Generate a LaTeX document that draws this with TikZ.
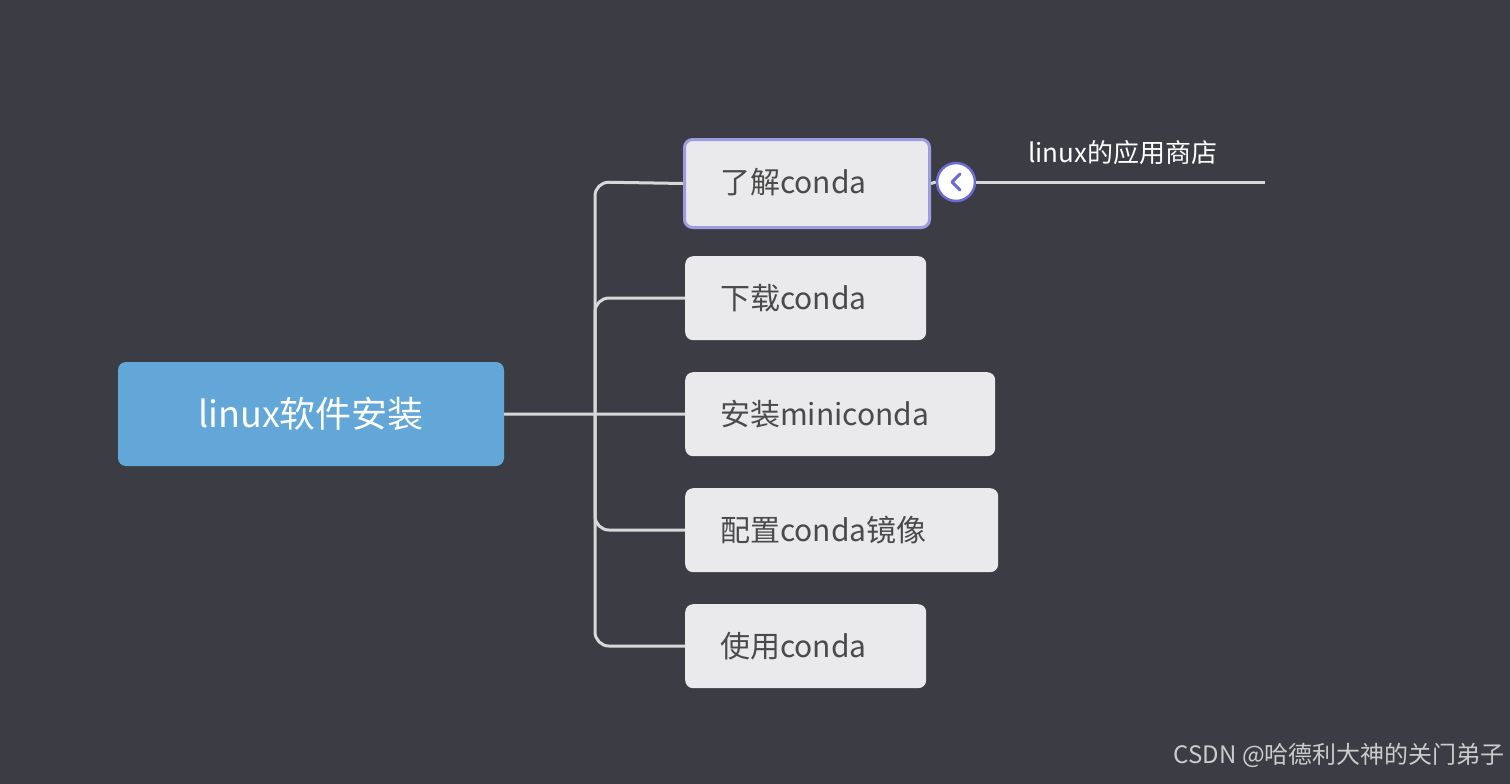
\documentclass[tikz,border=0pt]{standalone}
\usepackage{fontspec}
\setmainfont{Noto Sans CJK SC}
\definecolor{bg}{HTML}{3C3D44}
\definecolor{rootc}{HTML}{62A7D8}
\definecolor{boxc}{HTML}{EAEAEC}
\definecolor{txt}{HTML}{4A4A4A}
\definecolor{linec}{HTML}{D8D8D8}
\definecolor{sel}{HTML}{9A9EE0}
\definecolor{icon}{HTML}{6B6BD6}
\tikzset{
  child/.style={fill=boxc,rounded corners=8pt,text=txt,anchor=north west,inner sep=0pt,align=left,font=\fontsize{30}{34}\selectfont},
  conn/.style={draw=linec,line width=3pt,rounded corners=14pt},
}
\begin{document}
\begin{tikzpicture}[x=1pt,y=-1pt]
\fill[bg] (0,0) rectangle (1510,784);
\useasboundingbox (0,0) rectangle (1510,784);
\node[fill=rootc,rounded corners=8pt,minimum width=386pt,minimum height=104pt,inner sep=0pt,text=white,font=\fontsize{36}{40}\selectfont] (root) at (311,414) {linux软件安装};
\node[child,minimum width=245pt,minimum height=88pt,draw=sel,line width=3pt] (c1) at (683,138) {};
\node[anchor=west,text=txt,font=\fontsize{30}{34}\selectfont,inner sep=0pt] at (720,182) {了解conda};
\node[child,minimum width=241pt,minimum height=84pt] (c2) at (685,256) {};
\node[anchor=west,text=txt,font=\fontsize{30}{34}\selectfont,inner sep=0pt] at (720,298) {下载conda};
\node[child,minimum width=310pt,minimum height=84pt] (c3) at (685,372) {};
\node[anchor=west,text=txt,font=\fontsize{30}{34}\selectfont,inner sep=0pt] at (720,414) {安装miniconda};
\node[child,minimum width=313pt,minimum height=84pt] (c4) at (685,488) {};
\node[anchor=west,text=txt,font=\fontsize{30}{34}\selectfont,inner sep=0pt] at (720,530) {配置conda镜像};
\node[child,minimum width=241pt,minimum height=84pt] (c5) at (685,604) {};
\node[anchor=west,text=txt,font=\fontsize{30}{34}\selectfont,inner sep=0pt] at (720,646) {使用conda};
\draw[linec,line width=3pt] (root.east) -- (c3.west);
\draw[conn] (c1.west) -- (595,182) -- (595,413);
\draw[conn] (c2.west) -- (595,298) -- (595,413);
\draw[conn] (c5.west) -- (595,646) -- (595,413);
\draw[conn] (c4.west) -- (595,530) -- (595,413);
\node[circle,draw=icon,fill=white,line width=2.5pt,minimum size=38pt,inner sep=0pt] (ic) at (956,182) {};
\draw[icon,line width=3pt,line cap=round,line join=round] (960,174) -- (952,182) -- (960,190);
\coordinate (e) at (1265,182);
\draw[linec,line width=3pt] (c1.east) -- (ic.west);
\draw[linec,line width=3pt] (ic.east) -- (e);
\node[anchor=south west,text=white,font=\fontsize{26}{30}\selectfont,inner sep=0pt] (lab) at (1028,165) {linux的应用商店};
\node[anchor=east,text=linec!85!gray,font=\fontsize{24}{28}\selectfont,inner sep=0pt] (wm) at (1505,755) {CSDN @哈德利大神的关门弟子};
\end{tikzpicture}
\end{document}
